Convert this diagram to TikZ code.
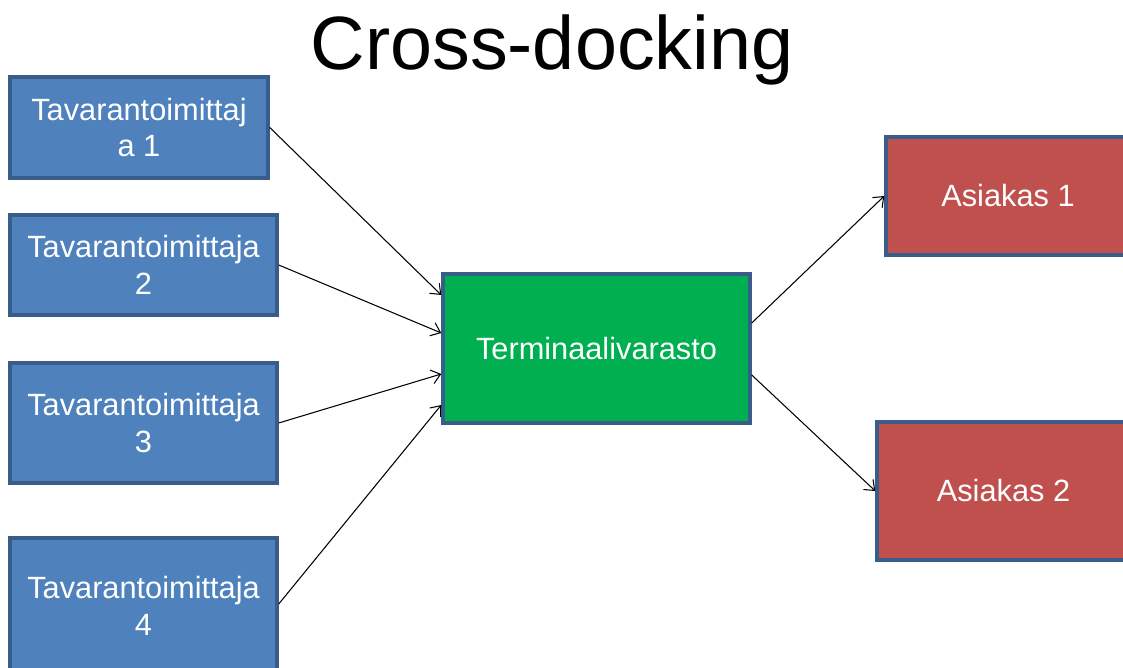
\documentclass[tikz,border=0pt]{standalone}
\usepackage{fontspec}
\setmainfont{Liberation Sans}
\usetikzlibrary{arrows.meta,calc}
\definecolor{supplierblue}{RGB}{79,129,189}
\definecolor{boxborder}{RGB}{56,93,138}
\definecolor{terminalgreen}{RGB}{0,176,80}
\definecolor{customerred}{RGB}{192,80,77}

\begin{document}
\begin{tikzpicture}[
    x=0.02cm, y=-0.02cm,
    >={Straight Barb[length=5pt, width=8pt]},
    card/.style={draw=boxborder, line width=2pt, text=white, align=center,
        font=\fontsize{17.5}{21}\selectfont, inner sep=0pt},
    supplierbox/.style={card, fill=supplierblue},
    termbox/.style={card, fill=terminalgreen},
    customerbox/.style={card, fill=customerred},
    flow/.style={->, black, line width=0.6pt}
]

% Page area
\useasboundingbox (0,0) rectangle (1123,668);

% Title
\node[anchor=base, font=\fontsize{43}{50}\selectfont] (title) at (552,70) {Cross-docking};

% Suppliers
\node[supplierbox, minimum width=5.16cm, minimum height=2.02cm] (sup1) at (139,127.5) {Tavarantoimittaj\\a 1};
\node[supplierbox, minimum width=5.34cm, minimum height=2.0cm] (sup2) at (143.5,265) {Tavarantoimittaja\\2};
\node[supplierbox, minimum width=5.34cm, minimum height=2.4cm] (sup3) at (143.5,423) {Tavarantoimittaja\\3};
\node[supplierbox, minimum width=5.34cm, minimum height=2.72cm] (sup4) at (143.5,606) {Tavarantoimittaja\\4};

% Terminal warehouse
\node[termbox, minimum width=6.14cm, minimum height=2.98cm] (term) at (596.5,348.5) {Terminaalivarasto};

% Customers
\node[customerbox, minimum width=4.88cm, minimum height=2.36cm] (cust1) at (1008,196) {Asiakas 1};
\node[customerbox, minimum width=5.06cm, minimum height=2.76cm] (cust2) at (1003.5,491) {Asiakas 2};

% Flows into the terminal
\draw[flow] (sup1.east) -- ($(term.west)+(0,-53.5)$);
\draw[flow] (sup2.east) -- ($(term.west)+(0,-15.5)$);
\draw[flow] (sup3.east) -- ($(term.west)+(0,25.5)$);
\draw[flow] ($(sup4.east)+(0,-2)$) -- ($(term.west)+(0,56.5)$);

% Flows out to customers
\draw[flow] ($(term.east)+(0,-25.5)$) -- (cust1.west);
\draw[flow] ($(term.east)+(0,26.5)$) -- (cust2.west);

\end{tikzpicture}
\end{document}
